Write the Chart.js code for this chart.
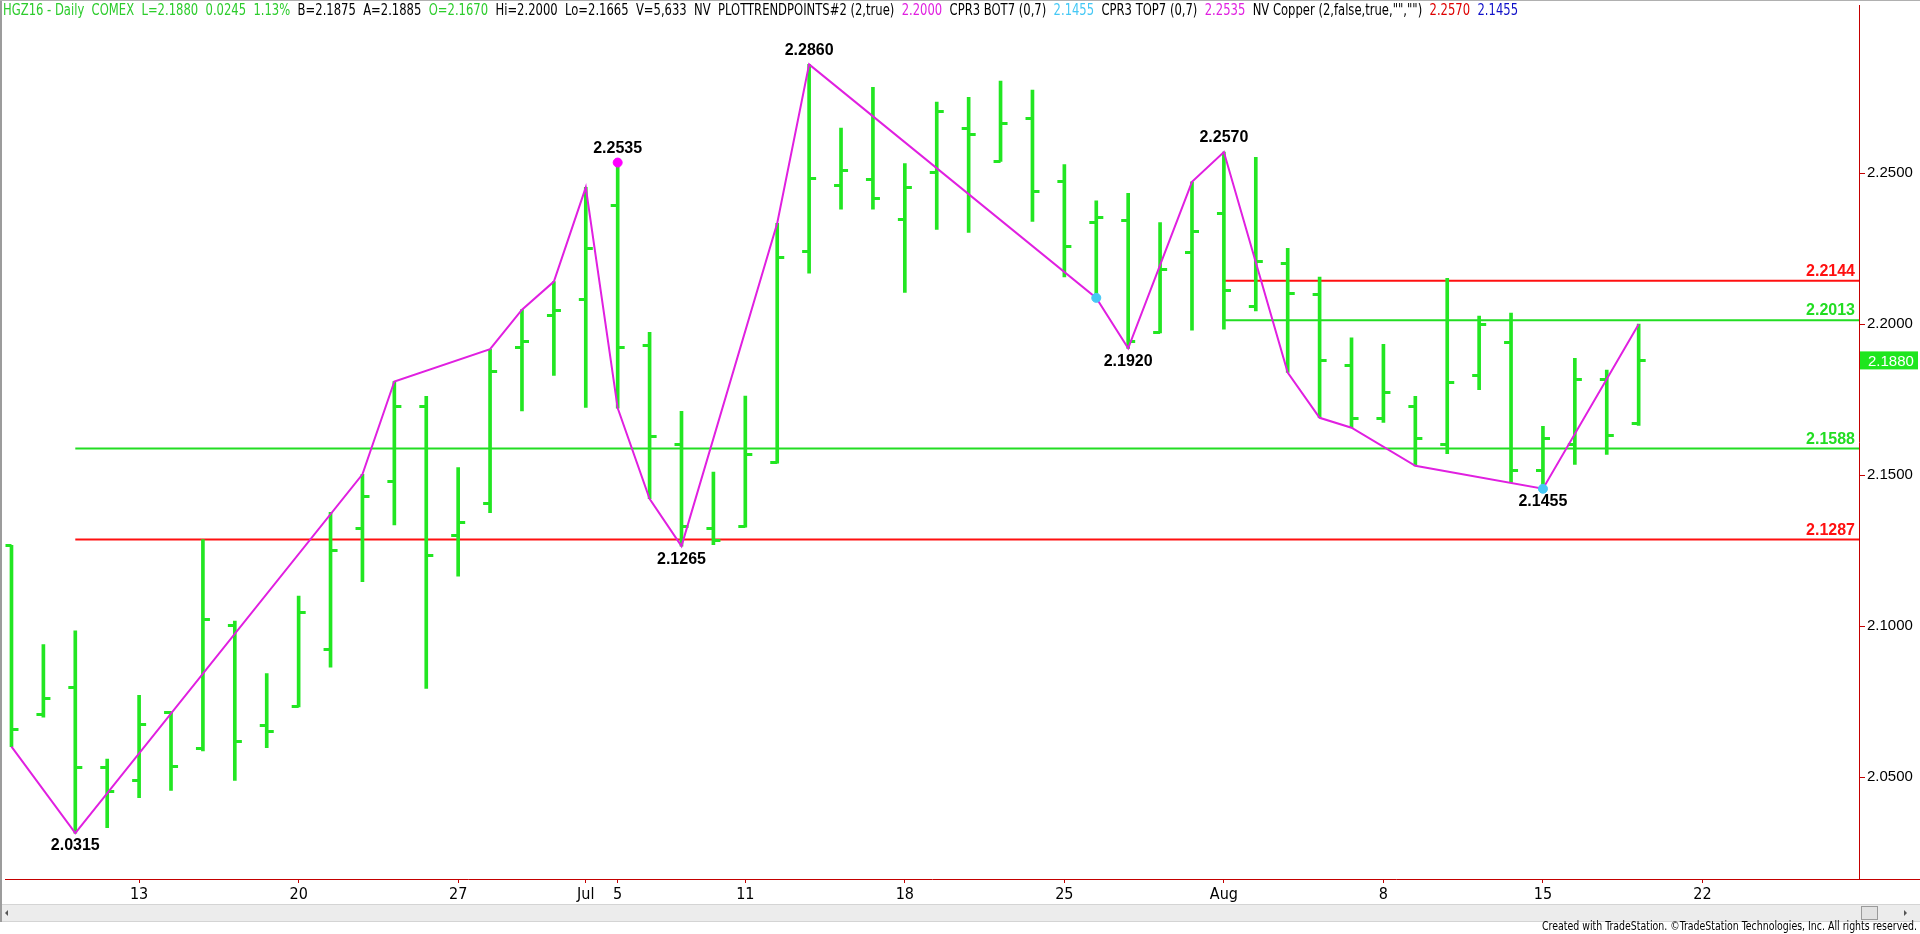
<!DOCTYPE html>
<html>
<head>
<meta charset="utf-8">
<title>HGZ16 Daily</title>
<script src="https://cdn.jsdelivr.net/npm/chart.js@4.4.0/dist/chart.umd.min.js"></script>
<style>
  html, body { margin: 0; padding: 0; background: #fff; overflow: hidden; }
  #wrap { width: 1920px; height: 934px; }
</style>
</head>
<body>
<div id="wrap"><canvas id="chart" width="1920" height="934" style="width:1920px;height:934px"></canvas></div>
<script>
// trading days shown (Jun 7 .. Aug 18, 2016)
const dates = ['Jun 7','Jun 8','Jun 9','Jun 10','Jun 13','Jun 14','Jun 15','Jun 16','Jun 17','Jun 20',
  'Jun 21','Jun 22','Jun 23','Jun 24','Jun 27','Jun 28','Jun 29','Jun 30','Jul 1','Jul 5',
  'Jul 6','Jul 7','Jul 8','Jul 11','Jul 12','Jul 13','Jul 14','Jul 15','Jul 18','Jul 19',
  'Jul 20','Jul 21','Jul 22','Jul 25','Jul 26','Jul 27','Jul 28','Jul 29','Aug 1','Aug 2',
  'Aug 3','Aug 4','Aug 5','Aug 8','Aug 9','Aug 10','Aug 11','Aug 12','Aug 15','Aug 16',
  'Aug 17','Aug 18'];

const opens = [2.1268,2.0706,2.0798,2.0532,2.0489,2.0715,2.0595,2.1001,2.0672,2.0733,
  2.0924,2.1322,2.1478,2.1728,2.1300,2.1407,2.1922,2.2027,2.2083,2.2394,
  2.1928,2.1603,2.1323,2.1331,2.1543,2.2241,2.2459,2.2478,2.2345,2.2501,
  2.2647,2.2539,2.2682,2.2471,2.2337,2.2344,2.1971,2.2238,2.2366,2.2057,
  2.2202,2.2097,2.1863,2.1686,2.1726,2.1600,2.1830,2.1938,2.1514,2.1602,
  2.1818,2.1670];
const highs = [2.1268,2.0939,2.0985,2.0560,2.0771,2.0717,2.1287,2.1017,2.0843,2.1100,
  2.1377,2.1503,2.1810,2.1761,2.1525,2.1917,2.2048,2.2141,2.2453,2.2535,
  2.1973,2.1711,2.1510,2.1762,2.2334,2.2860,2.2649,2.2784,2.2532,2.2735,
  2.2751,2.2805,2.2775,2.2528,2.2408,2.2433,2.2336,2.2471,2.2570,2.2552,
  2.2251,2.2156,2.1955,2.1933,2.1761,2.2152,2.2027,2.2037,2.1662,2.1887,
  2.1848,2.2000];
const lows = [2.0601,2.0699,2.0315,2.0333,2.0432,2.0456,2.0587,2.0489,2.0598,2.0733,
  2.0864,2.1147,2.1335,2.0794,2.1166,2.1376,2.1713,2.1830,2.1724,2.1722,
  2.1422,2.1265,2.1270,2.1328,2.1540,2.2169,2.2381,2.2381,2.2105,2.2314,
  2.2304,2.2539,2.2340,2.2156,2.2087,2.1920,2.1971,2.1980,2.1983,2.2044,
  2.1840,2.1690,2.1657,2.1675,2.1531,2.1571,2.1783,2.1476,2.1455,2.1536,
  2.1569,2.1665];
const closes = [2.0657,2.0759,2.0532,2.0453,2.0673,2.0537,2.1021,2.0617,2.0653,2.1045,
  2.1251,2.1429,2.1728,2.1235,2.1344,2.1843,2.1942,2.2045,2.2252,2.1922,
  2.1629,2.1331,2.1284,2.1569,2.2220,2.2481,2.2509,2.2415,2.2453,2.2705,
  2.2627,2.2665,2.2438,2.2258,2.2353,2.1942,2.2181,2.2307,2.2112,2.2208,
  2.2103,2.1879,2.1686,2.1774,2.1620,2.1807,2.1999,2.1514,2.1620,2.1818,
  2.1633,2.1880];

// swing line (PLOTTRENDPOINTS)
const pivotIdx = [0, 2, 11, 12, 15, 16, 17, 18, 19, 20, 21, 24, 25, 34, 35, 37, 38, 40, 41, 42, 44, 48, 51];
const pivotPx  = [2.0601, 2.0315, 2.1503, 2.1810, 2.1917, 2.2048, 2.2141, 2.2453, 2.1722, 2.1422, 2.1265,
  2.2334, 2.2860, 2.2087, 2.1920, 2.2471, 2.2570, 2.1840, 2.1690, 2.1657, 2.1531, 2.1455, 2.2000];

// labelled swing points
const markIdx  = [2, 19, 21, 25, 35, 38, 48];
const markVal  = [2.0315, 2.2535, 2.1265, 2.2860, 2.1920, 2.2570, 2.1455];
const markSide = ['low', 'high', 'low', 'high', 'low', 'high', 'low'];

// CPR dots
const topDotIdx = [19];
const topDotVal = [2.2535];
const botDotIdx = [34, 48];
const botDotVal = [2.2087, 2.1455];

// horizontal levels
const levelVals  = [2.2144, 2.2013, 2.1588, 2.1287];
const levelStart = [38, 38, 2, 2];
const levelKind  = ['red', 'green', 'green', 'red'];

// date axis
const tickIdx  = [4, 9, 14, 18, 19, 23, 28, 33, 38, 43, 48, 53];
const tickText = ['13', '20', '27', 'Jul', '5', '11', '18', '25', 'Aug', '8', '15', '22'];

const headerParts = [
  ['HGZ16 - Daily  COMEX  L=2.1880  0.0245  1.13%', 'green'],
  ['  B=2.1875  A=2.1885  ', 'black'],
  ['O=2.1670', 'green'],
  ['  Hi=2.2000  Lo=2.1665  V=5,633  NV  PLOTTRENDPOINTS#2 (2,true)  ', 'black'],
  ['2.2000', 'magenta'],
  ['  CPR3 BOT7 (0,7)  ', 'black'],
  ['2.1455', 'cyan'],
  ['  CPR3 TOP7 (0,7)  ', 'black'],
  ['2.2535', 'magenta'],
  ['  NV Copper (2,false,true,"","")  ', 'black'],
  ['2.2570', 'red'],
  ['  ', 'black'],
  ['2.1455', 'blue']
];

const X_MIN = -0.1875, X_MAX = 57.906;
const Y_MIN = 2.0163, Y_MAX = 2.3055;

const COL = {
  bar: '#22e622',
  green: '#22dd22',
  red: '#ff1010',
  axis: '#c40000',
  magenta: '#e020e0',
  cyan: '#45c8f5',
  blue: '#1010c8',
  black: '#000000',
  hdrGreen: '#2ccc2c'
};
const NARROW = '"Liberation Sans Narrow", "Arial Narrow", "DejaVu Sans Condensed", sans-serif';
const ARIAL = '"Liberation Sans", Arial, sans-serif';

function tickImg(side) {
  const c = document.createElement('canvas');
  c.width = 16; c.height = 3;
  const g = c.getContext('2d');
  g.fillStyle = COL.bar;
  if (side === 'open') g.fillRect(1, 0, 7, 3); else g.fillRect(8, 0, 7, 3);
  return c;
}

function fitText(ctx, parts, x0, x1, y, font) {
  ctx.save();
  ctx.font = font;
  const total = parts.reduce((s, p) => s + ctx.measureText(p[0]).width, 0);
  const k = (x1 - x0) / total;
  ctx.translate(x0, y);
  ctx.scale(k, 1);
  ctx.textBaseline = 'middle';
  ctx.textAlign = 'left';
  let x = 0;
  parts.forEach(p => {
    ctx.fillStyle = p[1];
    ctx.fillText(p[0], x, 0);
    x += ctx.measureText(p[0]).width;
  });
  ctx.restore();
}

const hdrColor = { green: COL.hdrGreen, black: '#000', magenta: COL.magenta, cyan: COL.cyan, red: '#dd0000', blue: COL.blue };

const overlay = {
  id: 'overlay',
  beforeDraw(chart) {
    const ctx = chart.ctx;
    ctx.save();
    ctx.fillStyle = '#fff';
    ctx.fillRect(0, 0, chart.width, chart.height);
    ctx.restore();
  },
  afterDatasetsDraw(chart) {
    const ctx = chart.ctx, xs = chart.scales.x, ys = chart.scales.y, area = chart.chartArea;
    ctx.save();
    // level labels
    ctx.font = 'bold 16px ' + ARIAL;
    ctx.textAlign = 'right';
    ctx.textBaseline = 'alphabetic';
    levelVals.forEach((v, i) => {
      ctx.fillStyle = levelKind[i] === 'red' ? COL.red : COL.green;
      ctx.fillText(v.toFixed(4), area.right - 4, ys.getPixelForValue(v) - 5);
    });
    // swing labels
    ctx.fillStyle = '#000';
    ctx.textAlign = 'center';
    ctx.textBaseline = 'middle';
    markIdx.forEach((idx, i) => {
      const px = xs.getPixelForValue(idx);
      const py = ys.getPixelForValue(markVal[i]);
      const dy = markSide[i] === 'high' ? -14 : 13;
      ctx.fillText(markVal[i].toFixed(4), px, py + dy);
    });
    ctx.restore();
  },
  afterDraw(chart) {
    const ctx = chart.ctx, ys = chart.scales.y, area = chart.chartArea;
    ctx.save();
    // header
    const parts = headerParts.map(p => [p[0], hdrColor[p[1]]]);
    fitText(ctx, parts, 3, 1518, 11, '15px ' + NARROW);

    // axis line extension
    ctx.strokeStyle = COL.axis;
    ctx.lineWidth = 1;
    ctx.beginPath();
    ctx.moveTo(area.right, area.bottom + 0.5);
    ctx.lineTo(chart.width, area.bottom + 0.5);
    ctx.stroke();

    // last price box
    const last = closes[closes.length - 1];
    const py = ys.getPixelForValue(last);
    ctx.fillStyle = '#1ee61e';
    ctx.fillRect(area.right + 1, py - 9, 58, 18);
    ctx.fillStyle = '#fff';
    ctx.font = '15px ' + ARIAL;
    ctx.textAlign = 'left';
    ctx.textBaseline = 'middle';
    ctx.fillText(last.toFixed(4), area.right + 9, py + 1);

    // scroll bar
    ctx.fillStyle = '#ececec';
    ctx.fillRect(0, 904, chart.width, 18);
    ctx.fillStyle = '#d4d4d4';
    ctx.fillRect(0, 904, chart.width, 1);
    ctx.fillRect(0, 921, chart.width, 1);
    ctx.fillStyle = '#e2e2e2';
    ctx.fillRect(1861, 906, 17, 14);
    ctx.strokeStyle = '#9a9a9a';
    ctx.strokeRect(1861.5, 906.5, 16, 13);
    ctx.fillStyle = '#555';
    ctx.beginPath(); ctx.moveTo(8, 910); ctx.lineTo(5, 913); ctx.lineTo(8, 916); ctx.fill();
    ctx.beginPath(); ctx.moveTo(1904, 910); ctx.lineTo(1907, 913); ctx.lineTo(1904, 916); ctx.fill();

    // credit
    fitText(ctx, [['Created with TradeStation. \u00A9TradeStation Technologies, Inc. All rights reserved.', '#000']],
      1542, 1917, 927, '13px ' + NARROW);

    // frame
    ctx.fillStyle = '#9c9c9c';
    ctx.fillRect(0, 0, 2, 922);
    ctx.fillStyle = '#b0b0b0';
    ctx.fillRect(0, 0, chart.width, 1);
    ctx.restore();
  }
};

const barData  = dates.map((d, i) => ({ x: i, y: [lows[i], highs[i]] }));
const openData = dates.map((d, i) => ({ x: i, y: opens[i] }));
const closeData = dates.map((d, i) => ({ x: i, y: closes[i] }));
const pivotData = pivotIdx.map((idx, i) => ({ x: idx, y: pivotPx[i] }));

const levelSets = levelVals.map((v, i) => ({
  type: 'line',
  data: [{ x: levelStart[i], y: v }, { x: X_MAX, y: v }],
  borderColor: levelKind[i] === 'red' ? COL.red : COL.green,
  borderWidth: 2,
  pointRadius: 0,
  order: 5
}));

new Chart(document.getElementById('chart'), {
  type: 'bar',
  data: {
    datasets: [
      {
        type: 'scatter',
        data: topDotIdx.map((idx, i) => ({ x: idx, y: topDotVal[i] })),
        backgroundColor: '#ff00ff',
        borderColor: '#ff00ff',
        pointRadius: 4.5,
        order: 0
      },
      {
        type: 'scatter',
        data: botDotIdx.map((idx, i) => ({ x: idx, y: botDotVal[i] })),
        backgroundColor: COL.cyan,
        borderColor: COL.cyan,
        pointRadius: 4.5,
        order: 0
      },
      {
        type: 'line',
        data: pivotData,
        borderColor: COL.magenta,
        borderWidth: 2,
        pointRadius: 0,
        tension: 0,
        order: 1
      },
      {
        type: 'scatter',
        data: openData,
        pointStyle: tickImg('open'),
        order: 2
      },
      {
        type: 'scatter',
        data: closeData,
        pointStyle: tickImg('close'),
        order: 2
      },
      {
        type: 'bar',
        data: barData,
        backgroundColor: COL.bar,
        borderWidth: 0,
        barThickness: 3,
        order: 3
      },
      ...levelSets
    ]
  },
  options: {
    responsive: false,
    animation: false,
    devicePixelRatio: 1,
    layout: { padding: 0 },
    plugins: {
      legend: { display: false },
      tooltip: { enabled: false }
    },
    scales: {
      x: {
        type: 'linear',
        min: X_MIN,
        max: X_MAX,
        offset: false,
        grid: { display: true, drawOnChartArea: false, drawTicks: true, tickLength: 4, color: COL.axis, offset: false },
        border: { display: true, color: COL.axis, width: 1 },
        afterBuildTicks(scale) {
          scale.ticks = tickIdx.map(v => ({ value: v }));
        },
        afterFit(scale) {
          scale.height = 55;
          scale.paddingLeft = 0;
          scale.paddingRight = 0;
        },
        ticks: {
          autoSkip: false,
          maxRotation: 0,
          padding: 2,
          color: '#000',
          font: { family: NARROW, size: 16 },
          callback: (v, i) => tickText[i]
        }
      },
      y: {
        type: 'linear',
        position: 'right',
        min: Y_MIN,
        max: Y_MAX,
        beginAtZero: false,
        grid: { display: true, drawOnChartArea: false, drawTicks: true, tickLength: 6, color: COL.axis },
        border: { display: true, color: COL.axis, width: 1 },
        afterBuildTicks(scale) {
          scale.ticks = scale.ticks.filter(t => t.value > 2.04 && t.value < 2.29);
        },
        afterFit(scale) {
          scale.width = 61;
          scale.paddingTop = 0;
          scale.paddingBottom = 0;
        },
        ticks: {
          stepSize: 0.05,
          includeBounds: false,
          padding: 2,
          color: '#000',
          font: { family: ARIAL, size: 15 },
          callback: v => Number(v).toFixed(4)
        }
      }
    }
  },
  plugins: [overlay]
});
</script>
</body>
</html>
